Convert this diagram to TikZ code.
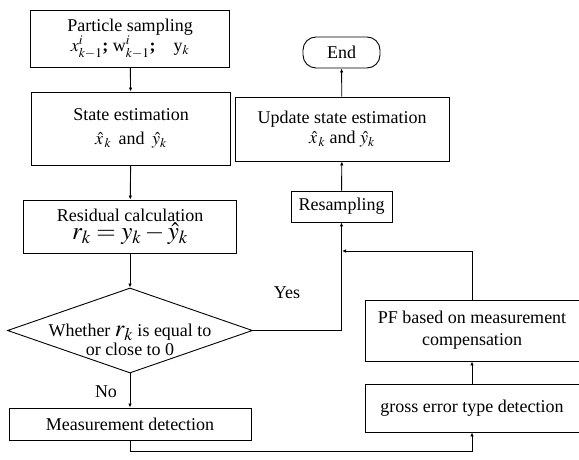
\documentclass[tikz,border=0pt]{standalone}
\usepackage{mathptmx}
\usepackage{fontspec}
\setmainfont{Liberation Serif}
\usepackage{tikz}
\usetikzlibrary{arrows.meta}
\usetikzlibrary{shapes.geometric}
\tikzset{>={Latex[length=4pt,width=3.5pt]}}
\tikzset{box/.style={draw, line width=0.9pt, align=center, inner sep=0pt,
    font=\fontsize{18}{22}\selectfont}}
\tikzset{tag/.style={align=center, inner sep=0pt, font=\fontsize{18}{22}\selectfont}}
\tikzset{flow/.style={->, line width=0.9pt}}

\begin{document}
\begin{tikzpicture}[x=1pt, y=-1pt]
\useasboundingbox (0,0) rectangle (579,460);
    %left column
    \node[box, minimum width=199, minimum height=57] (sample) at (130,38.5)
        {Particle sampling\\[-2pt] $x^{i}_{k-1}$\textbf{;} w$^{i}_{k-1}$\textbf{;}\quad y$_{k}$};
    \node[box, minimum width=199, minimum height=73] (estim) at (131,128.5)
        {State estimation\\[2pt] $\hat{x}_{\,k}$\, and\, $\hat{y}_{k}$};
    \node[box, minimum width=213, minimum height=53] (resid) at (130,226.5)
        {Residual calculation\\[-4pt] {\fontsize{25}{26}\selectfont $r_{k} = y_{k} - \hat{y}_{k}$}};
    \node[box, diamond, aspect=2.9, minimum width=245, minimum height=85,
        label={[tag, yshift=-9pt]center:Whether {\fontsize{24}{22}\selectfont$r_{k}$} is equal to\\[-3pt] or close to 0}]
        (check) at (130,330.5) {};
    \node[box, minimum width=242, minimum height=32] (detect) at (130,424)
        {Measurement detection};
    %right column
    \node[box, rounded corners=13pt, minimum width=77, minimum height=31] (stop) at (341.5,52.5) {End};
    \node[box, minimum width=214, minimum height=64] (update) at (342,129)
        {Update state estimation\\[-2pt] $\hat{x}_{\,k}$ and $\hat{y}_{k}$};
    \node[box, minimum width=101, minimum height=31] (resample) at (341.5,206.5) {Resampling};
    \node[box, minimum width=214, minimum height=61] (comp) at (472,330.5)
        {PF based on measurement\\ compensation};
    \node[box, minimum width=214, minimum height=48] (gross) at (472,408)
        {gross error type detection};
    %branch labels
    \node[tag] (yes) at (287,293) {Yes};
    \node[tag] (no) at (106,392) {No};
    %corners
    \coordinate (merge) at (342,251);
    \coordinate (under) at (130,451);
    %connectors
    \draw[flow] (sample) -- (estim);
    \draw[flow] (estim) -- (resid);
    \draw[flow] (resid) -- (check);
    \draw[flow] (check) -- (detect);
    \draw[flow] (check.east) -| (resample);
    \draw[flow] (resample) -- (update);
    \draw[flow] (update) -- (stop);
    \draw[flow] (detect.south) -- (under) -| (gross.south);
    \draw[flow] (gross) -- (comp);
    \draw[flow] (comp.north) |- (merge);
\end{tikzpicture}
\end{document}
